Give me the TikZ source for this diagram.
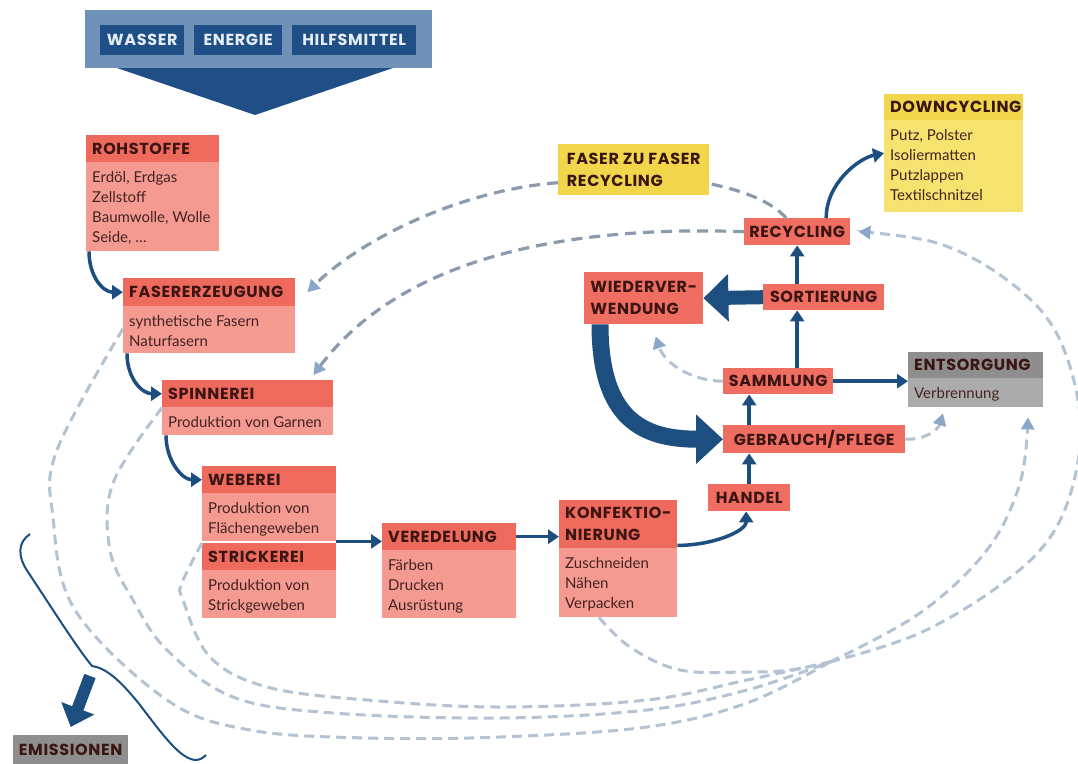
\documentclass[tikz,border=0pt]{standalone}
\usepackage{fontspec}
\setmainfont{Lato}
\newfontfamily\hfont{Poppins}[LetterSpace=4]
\usetikzlibrary{arrows.meta,calc}
\definecolor{hdr}{HTML}{EE6A5D}
\definecolor{bodyc}{HTML}{F49A90}
\definecolor{lab}{HTML}{EF6E61}
\definecolor{hdrtxt}{HTML}{3A1513}
\definecolor{bodytxt}{HTML}{432422}
\definecolor{yelH}{HTML}{F1D64C}
\definecolor{yelB}{HTML}{F6E26E}
\definecolor{grayH}{HTML}{8E8E8E}
\definecolor{grayB}{HTML}{ABABAB}
\definecolor{navy}{HTML}{1C4E7F}
\definecolor{bannerL}{HTML}{7091B8}
\definecolor{bannerD}{HTML}{1F4F86}
\definecolor{bannertxt}{HTML}{E6EDF5}
\definecolor{dashlight}{HTML}{B3C3D3}
\definecolor{dashdark}{HTML}{8A9BAD}
\definecolor{tipcol}{HTML}{89A7C9}
\colorlet{curH}{hdr}
\colorlet{curB}{bodyc}
\newcommand\pbox[8]{%
  \node[bodyfill, minimum width=#4pt, minimum height=#5pt] (#1) at (#2,#3) {};
  \node[hdrfill, minimum width=#4pt, minimum height=#6pt] (#1-h) at (#2,#3) {};
  \node[htext] (#1-t) at ([xshift=6pt]#1-h.west) {#7};
  \foreach \bl [count=\i] in {#8} {\node[btext] (#1-b\i) at ({#2+6},{#3+#6+20+20*(\i-1)}) {\bl};}
}
\begin{document}
\begin{tikzpicture}[x=1pt,y=-1pt,
  bodyfill/.style={fill=curB, inner sep=0, anchor=north west},
  hdrfill/.style={fill=curH, inner sep=0, anchor=north west},
  htext/.style={font=\hfont\bfseries\fontsize{16}{22}\selectfont, text=hdrtxt, inner sep=0, anchor=west, align=left},
  btext/.style={font=\fontsize{15}{16}\selectfont, text=bodytxt, inner sep=0, anchor=base west},
  lbl/.style={fill=lab, inner sep=0, anchor=north west, font=\hfont\bfseries\fontsize{16}{22}\selectfont, text=hdrtxt, align=left},
  inbox/.style={fill=bannerD, inner sep=0, anchor=north west, minimum height=30pt, font=\hfont\bfseries\fontsize{16}{18}\selectfont, text=bannertxt},
  navyarr/.style={draw=navy, line width=3.5pt, -{Triangle[width=14pt,length=11pt]}},
  dashD/.style={draw=dashdark, line width=3.2pt, dash pattern=on 11pt off 7pt},
  dashL/.style={draw=dashlight, line width=3pt, dash pattern=on 10pt off 6pt},
  dtip/.style={-{Triangle[width=13pt,length=12pt,color=tipcol]}}
]
\fill[white] (0,0) rectangle (1078,763);
\useasboundingbox (0,0) rectangle (1078,763);

% banner
\node[fill=bannerL, inner sep=0, anchor=north west, minimum width=347pt, minimum height=58pt] (banner) at (85,10) {};
\node[inbox, minimum width=84pt] (wasser) at (100,25) {WASSER};
\node[inbox, minimum width=88pt] (energie) at (194,25) {ENERGIE};
\node[inbox, minimum width=124pt] (hilfs) at (292,25) {HILFSMITTEL};
\fill[bannerD] (117,68) -- (393,68) -- (255,115) -- cycle;

% production boxes
\pbox{roh}{86}{135}{133}{116}{27}{ROHSTOFFE}{{Erdöl, Erdgas},Zellstoff,{Baumwolle, Wolle},{Seide, \dots}}
\pbox{fas}{123}{278}{172}{75}{28}{FASERERZEUGUNG}{{synthetische Fasern},Naturfasern}
\pbox{spin}{162}{380}{171}{55}{27}{SPINNEREI}{{Produktion von Garnen}}
\pbox{web}{202}{466}{134}{75}{27}{WEBEREI}{{Produktion von},Flächengeweben}
\pbox{str}{202}{543}{134}{75}{27}{STRICKEREI}{{Produktion von},Strickgeweben}
\pbox{ver}{382}{523}{134}{95}{27}{VEREDELUNG}{Färben,Drucken,Ausrüstung}
\pbox{konf}{559}{500}{118}{117}{48}{KONFEKTIO-\\NIERUNG}{Zuschneiden,Nähen,Verpacken}
\colorlet{curH}{grayH}\colorlet{curB}{grayB}
\pbox{ents}{908}{352}{135}{55}{26}{ENTSORGUNG}{Verbrennung}
\colorlet{curH}{yelH}\colorlet{curB}{yelB}
\pbox{down}{884}{94}{139}{118}{26}{DOWNCYCLING}{{Putz, Polster},Isoliermatten,Putzlappen,Textilschnitzel}

% label boxes
\node[lbl, fill=yelH, minimum width=151pt, minimum height=51pt] (faser2) at (558,144) {FASER ZU FASER\\RECYCLING};
\node[lbl, minimum width=106pt, minimum height=27pt] (recyc) at (744,218) {RECYCLING};
\node[lbl, minimum width=121pt, minimum height=26pt] (sort) at (763,284) {SORTIERUNG};
\node[lbl, minimum width=119pt, minimum height=52pt] (wieder) at (584,272) {WIEDERVER-\\WENDUNG};
\node[lbl, minimum width=110pt, minimum height=26pt] (samm) at (723,368) {SAMMLUNG};
\node[lbl, minimum width=182pt, minimum height=28pt] (gebr) at (723,425) {GEBRAUCH/PFLEGE};
\node[lbl, minimum width=82pt, minimum height=27pt] (handel) at (708,484) {HANDEL};
\node[lbl, fill=grayH, minimum width=115pt, minimum height=30pt] (emis) at (13,735) {EMISSIONEN};

% dashed flows (light)
\coordinate (merge) at (830,662);
\draw[dashL] plot[smooth, tension=0.6] coordinates {([yshift=-13pt]fas.west) (57,450) (53,517) (75,610) (167,700) (250,730) (367,738) (500,737) (647,727) (747,703) (merge)};
\draw[dashL] plot[smooth, tension=0.6] coordinates {(spin.west) (113,483) (110,550) (133,600) (167,650) (233,697) (333,713) (500,718) (647,710) (747,690) (merge)};
\draw[dashL] plot[smooth, tension=0.6] coordinates {(str.north west) (182,583) (183,600) (210,657) (267,687) (367,700) (500,707) (647,700) (747,680) (merge)};
\draw[dashL] plot[smooth, tension=0.6] coordinates {([xshift=40pt]konf.south west) (630,647) (680,670) (747,672) (790,670) (merge)};
\draw[dashL, dtip] plot[smooth, tension=0.6] coordinates {(merge) (920,633) (1003,583) (1053,533) (1077,467) (1078,400) (1053,327) (1003,277) (937,243) ([xshift=8pt]recyc.east)};
\draw[dashL, dtip] plot[smooth, tension=0.6] coordinates {(merge) (920,613) (987,550) (1020,483) ([xshift=120pt,yshift=-10pt]ents.south west)};
\draw[dashL, dtip] (samm.west) .. controls (690,381) and (664,362) .. ([xshift=12pt,yshift=-12pt]wieder.south);
\draw[dashL, dtip] (gebr.east) .. controls (925,440) and (938,430) .. ([xshift=35pt,yshift=-6pt]ents.south west);

% dashed flows (dark)
\draw[dashD, dtip] ([yshift=-13pt]faser2.west) .. controls (460,190) and (360,240) .. ([xshift=12pt]fas-h.east);
\draw[dashD] ([xshift=-11pt]recyc.north) .. controls (770,200) and (740,190) .. ([yshift=-14pt]faser2.east);
\draw[dashD, dtip] (recyc.west) .. controls (560,225) and (400,260) .. ([xshift=-20pt,yshift=5pt]spin.north east);

% navy arrows
\draw[navyarr] ([xshift=3pt]roh.south west) .. controls +(0,25) and +(-20,0) .. (fas-h.west);
\draw[navyarr] ([xshift=4pt]fas.south west) .. controls +(0,25) and +(-20,0) .. (spin-h.west);
\draw[navyarr] ([xshift=4pt]spin.south west) .. controls +(0,25) and +(-20,0) .. (web-h.west);
\draw[navyarr] (web.south east) -- (web.south east -| ver.west);
\draw[navyarr] (ver-h.east) -- (ver-h.east -| konf.west);
\draw[navyarr] ([yshift=3pt]konf-h.south east) .. controls +(35,0) and +(0,20) .. ([xshift=-3pt]handel.south);
\draw[navyarr] (handel.north) -- (handel.north |- gebr.south);
\draw[navyarr] (handel.north |- gebr.north) -- (handel.north |- samm.south);
\draw[navyarr] (samm.north -| recyc.south) -- (sort.south -| recyc.south);
\draw[navyarr] (sort.north -| recyc.south) -- (recyc.south);
\draw[navyarr] (samm.east) -- (samm.east -| ents.west);
\draw[navyarr] ([xshift=29pt]recyc.north) .. controls +(0,-35) and +(-25,5) .. (down.west);
\draw[navy, line width=14pt, -{Triangle[width=46pt,length=25pt]}] (sort.west) -- (wieder.east);
\draw[navy, line width=17pt, -{Triangle[width=48pt,length=27pt]}] ([xshift=16pt]wieder.south west) .. controls +(0,95) and +(-80,0) .. (gebr.west);

% emissions
\coordinate (emisstart) at (90,676);
\draw[navy, line width=12pt, -{Triangle[width=34pt,length=20pt]}] (emisstart) -- ([yshift=8pt]emis.north);
\draw[navy, line width=2pt] (30,534) .. controls (18,542) and (17,556) .. (28,572) .. controls (50,605) and (75,645) .. (92,666)
  .. controls (106,668) and (120,680) .. (140,705) .. controls (165,738) and (180,758) .. (195,760) .. controls (200,760) and (203,758) .. (206,755);
\end{tikzpicture}
\end{document}
